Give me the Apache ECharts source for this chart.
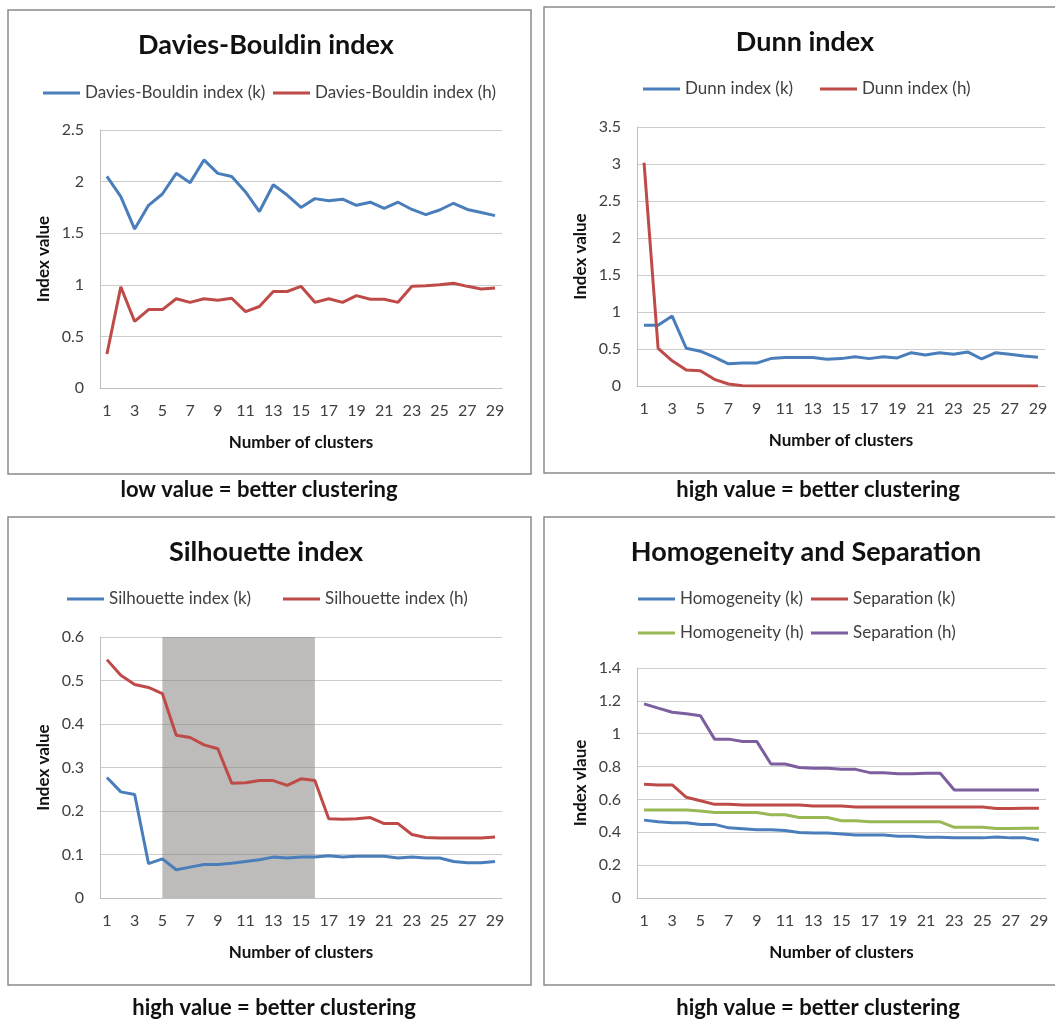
<!DOCTYPE html>
<html>
<head>
<meta charset="utf-8">
<script src="https://cdn.jsdelivr.net/npm/echarts@6/dist/echarts.min.js"></script>
<style>
html,body{margin:0;padding:0;background:#fff;}
#c{width:1055px;height:1021px;}
</style>
</head>
<body>
<div id="c"></div>
<script>
// ---- data ----
var clusters = ['1','2','3','4','5','6','7','8','9','10','11','12','13','14','15','16','17','18','19','20','21','22','23','24','25','26','27','28','29'];

var dbK = [2.05,1.855,1.54,1.77,1.88,2.08,1.99,2.21,2.08,2.05,1.90,1.71,1.97,1.87,1.75,1.835,1.815,1.83,1.77,1.80,1.74,1.80,1.73,1.68,1.725,1.79,1.73,1.70,1.67];
var dbH = [0.33,0.98,0.645,0.76,0.76,0.865,0.83,0.865,0.85,0.87,0.74,0.79,0.935,0.935,0.985,0.83,0.865,0.83,0.895,0.86,0.86,0.83,0.985,0.99,1.0,1.015,0.985,0.96,0.97];

var dunnK = [0.82,0.82,0.945,0.51,0.47,0.39,0.30,0.31,0.31,0.37,0.385,0.385,0.385,0.36,0.37,0.395,0.37,0.395,0.38,0.45,0.42,0.45,0.43,0.46,0.365,0.45,0.43,0.405,0.39];
var dunnH = [3.02,0.51,0.34,0.215,0.205,0.09,0.027,0.004,0,0,0,0,0,0,0,0,0,0,0,0,0,0,0,0,0,0,0,0,0];

var silK = [0.277,0.244,0.238,0.079,0.09,0.065,0.071,0.077,0.077,0.08,0.084,0.088,0.094,0.092,0.094,0.094,0.097,0.094,0.096,0.096,0.096,0.092,0.094,0.092,0.092,0.084,0.081,0.081,0.084];
var silH = [0.548,0.512,0.491,0.484,0.47,0.374,0.369,0.352,0.343,0.264,0.265,0.27,0.27,0.259,0.274,0.27,0.182,0.181,0.182,0.185,0.171,0.171,0.146,0.139,0.138,0.138,0.138,0.138,0.14];
var silBand = ['5','16'];

var homK = [0.474,0.464,0.458,0.458,0.448,0.448,0.427,0.421,0.415,0.415,0.411,0.399,0.395,0.395,0.389,0.383,0.383,0.383,0.376,0.376,0.37,0.37,0.366,0.366,0.366,0.372,0.366,0.366,0.352];
var sepK = [0.692,0.688,0.688,0.613,0.592,0.57,0.57,0.566,0.566,0.566,0.566,0.566,0.56,0.56,0.56,0.554,0.554,0.554,0.554,0.554,0.554,0.554,0.554,0.554,0.554,0.545,0.545,0.547,0.547];
var homH = [0.535,0.535,0.535,0.535,0.529,0.521,0.521,0.521,0.521,0.507,0.507,0.49,0.49,0.49,0.47,0.47,0.464,0.464,0.464,0.464,0.464,0.464,0.43,0.43,0.43,0.423,0.423,0.425,0.425];
var sepH = [1.182,1.156,1.131,1.121,1.109,0.967,0.967,0.952,0.952,0.816,0.816,0.794,0.79,0.79,0.783,0.783,0.763,0.763,0.757,0.757,0.759,0.759,0.657,0.657,0.657,0.657,0.657,0.657,0.657];

var titles = ['Davies-Bouldin index','Dunn index','Silhouette index','Homogeneity and Separation'];
var captions = ['low value = better clustering','high value = better clustering','high value = better clustering','high value = better clustering'];
var yNames = ['Index value','Index value','Index value','Index vlaue'];
var xName = 'Number of clusters';
var yRanges = [[0,2.5,0.5],[0,3.5,0.5],[0,0.6,0.1],[0,1.4,0.2]];

// ---- style / layout ----
var FONT = 'Lato, "Open Sans", sans-serif';
var C_BLUE = '#4a7ebb', C_RED = '#be4b48', C_GREEN = '#98b954', C_PURPLE = '#7d5fa0';
var grids = [
  {left:100, top:130, width:402, height:258},
  {left:637, top:127, width:408, height:259},
  {left:100, top:637, width:402, height:261},
  {left:637, top:668, width:409, height:230}
];
var boxes = [[8,10,523,464],[544,7,520,466],[8,517,523,468],[544,517,520,468]];
var titlePos = [[266,45],[805,42],[266,552],[806,552]];
var capPos = [[259,490],[818,490],[274,1008],[818,1008]];

var chart = echarts.init(document.getElementById('c'), null, {renderer:'canvas'});

var xAxes = [], yAxes = [];
for (var i = 0; i < 4; i++) {
  xAxes.push({
    type:'category', gridIndex:i, data:clusters, boundaryGap:true,
    axisTick:{show:false},
    axisLine:{lineStyle:{color:'#bfbfbf', width:1}},
    axisLabel:{interval:1, fontFamily:FONT, fontSize:16, color:'#404040', margin:15},
    name:xName, nameLocation:'middle', nameGap:46,
    nameTextStyle:{fontFamily:FONT, fontWeight:'bold', fontSize:17, color:'#111'}
  });
  yAxes.push({
    type:'value', gridIndex:i, min:yRanges[i][0], max:yRanges[i][1], interval:yRanges[i][2],
    axisLine:{show:true, lineStyle:{color:'#bfbfbf', width:1}},
    axisTick:{show:false},
    splitLine:{lineStyle:{color:'#cccccc', width:1}},
    axisLabel:{fontFamily:FONT, fontSize:16, color:'#404040', margin:16},
    name:yNames[i], nameLocation:'middle', nameRotate:90, nameGap:48,
    nameTextStyle:{fontFamily:FONT, fontWeight:'bold', fontSize:17, color:'#111'}
  });
}

function line(name, data, color, idx) {
  return {type:'line', name:name, data:data, xAxisIndex:idx, yAxisIndex:idx,
    symbol:'none', smooth:false, lineStyle:{color:color, width:3}, itemStyle:{color:color},
    animation:false, z:2};
}

var series = [
  line('Davies-Bouldin index (k)', dbK, C_BLUE, 0),
  line('Davies-Bouldin index (h)', dbH, C_RED, 0),
  line('Dunn index (k)', dunnK, C_BLUE, 1),
  line('Dunn index (h)', dunnH, C_RED, 1),
  line('Silhouette index (k)', silK, C_BLUE, 2),
  line('Silhouette index (h)', silH, C_RED, 2),
  line('Homogeneity (k)', homK, C_BLUE, 3),
  line('Separation (k)', sepK, C_RED, 3),
  line('Homogeneity (h)', homH, C_GREEN, 3),
  line('Separation (h)', sepH, C_PURPLE, 3),
  {type:'line', name:'band', data:[], xAxisIndex:2, yAxisIndex:2, z:5, animation:false,
   markArea:{silent:true, itemStyle:{color:'rgba(128,126,124,0.52)'},
     data:[[{xAxis:silBand[0]},{xAxis:silBand[1]}]]}}
];

var legendItems = [
  ['Davies-Bouldin index (k)',43,93],['Davies-Bouldin index (h)',273,93],
  ['Dunn index (k)',643,89],['Dunn index (h)',820,89],
  ['Silhouette index (k)',67,599],['Silhouette index (h)',283,599],
  ['Homogeneity (k)',638,599],['Separation (k)',811,599],
  ['Homogeneity (h)',638,633],['Separation (h)',811,633]
];
var legends = legendItems.map(function(it){
  return {data:[it[0]], left:it[1], top:it[2]-10, padding:0, icon:'rect',
    itemWidth:37, itemHeight:3, selectedMode:false,
    textStyle:{fontFamily:FONT, fontSize:17, color:'#404040', lineHeight:20}};
});

var graphics = [];
boxes.forEach(function(b){
  graphics.push({type:'rect', shape:{x:b[0], y:b[1], width:b[2], height:b[3]}, silent:true,
    style:{fill:'none', stroke:'#8a8a8a', lineWidth:1.5}, z:0});
});
titles.forEach(function(t,i){
  graphics.push({type:'text', x:titlePos[i][0], y:titlePos[i][1], silent:true,
    style:{text:t, font:'bold 27px ' + FONT, fill:'#111', align:'center', verticalAlign:'middle',
      textAlign:'center', textVerticalAlign:'middle'}});
});
captions.forEach(function(t,i){
  graphics.push({type:'text', x:capPos[i][0], y:capPos[i][1], silent:true,
    style:{text:t, font:'bold 22px ' + FONT, fill:'#111', align:'center', verticalAlign:'middle',
      textAlign:'center', textVerticalAlign:'middle'}});
});

chart.setOption({
  backgroundColor:'#ffffff',
  animation:false,
  grid:grids,
  xAxis:xAxes,
  yAxis:yAxes,
  legend:legends,
  series:series,
  graphic:{elements:graphics}
});
</script>
</body>
</html>
